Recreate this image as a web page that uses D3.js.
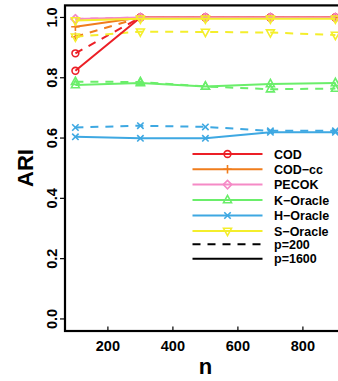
<!DOCTYPE html>
<html><head><meta charset="utf-8">
<script src="https://cdn.jsdelivr.net/npm/d3@7"></script>
<style>html,body{margin:0;padding:0;background:#fff;}svg{display:block;}</style>
</head><body>
<script>
// ---- data ----
const nValues = [100, 300, 500, 700, 900];
const methods = ["COD", "COD\u2212cc", "PECOK", "K\u2212Oracle", "H\u2212Oracle", "S\u2212Oracle"];
const methodColors = ["#ec1f26", "#f07d1c", "#f58ac6", "#6aee6a", "#3ea8e2", "#f4ee2c"];
const methodShapes = ["circle", "plus", "diamond", "triUp", "cross", "triDown"];
const pLabels = ["p=200", "p=1600"];
// ARI values, p = 200 (dashed)
const cod200    = [0.881, 1.000, 1.000, 1.000, 1.000];
const codcc200  = [0.936, 1.000, 1.000, 1.000, 1.000];
const pecok200  = [0.995, 1.000, 1.000, 1.000, 1.000];
const kor200    = [0.787, 0.786, 0.771, 0.762, 0.764];
const hor200    = [0.635, 0.641, 0.637, 0.624, 0.624];
const sor200    = [0.936, 0.953, 0.952, 0.950, 0.942];
// ARI values, p = 1600 (solid)
const cod1600   = [0.823, 1.000, 1.000, 1.000, 1.000];
const codcc1600 = [0.969, 1.000, 1.000, 1.000, 1.000];
const pecok1600 = [0.995, 1.000, 1.000, 1.000, 1.000];
const kor1600   = [0.776, 0.783, 0.771, 0.779, 0.783];
const hor1600   = [0.604, 0.599, 0.599, 0.619, 0.619];
const sor1600   = [0.990, 0.996, 0.996, 0.996, 0.996];
const xTicks = [200, 400, 600, 800];
const yTicks = [0.0, 0.2, 0.4, 0.6, 0.8, 1.0];

const series200 = [cod200, codcc200, pecok200, kor200, hor200, sor200];
const series1600 = [cod1600, codcc1600, pecok1600, kor1600, hor1600, sor1600];

// ---- layout ----
const W = 338, H = 381;
const svg = d3.select("body").append("svg").attr("width", W).attr("height", H)
  .style("font-family", "'Liberation Sans', Arial, Helvetica, sans-serif")
  .style("font-weight", "bold");

const x = d3.scaleLinear().domain([68, 932]).range([65, 345.8]);
const y = d3.scaleLinear().domain([-0.04, 1.04]).range([331, 5.4]);

// box
svg.append("rect").attr("x", x(68)).attr("y", y(1.04))
  .attr("width", x(932) - x(68)).attr("height", y(-0.04) - y(1.04))
  .attr("fill", "none").attr("stroke", "#000").attr("stroke-width", 2.2);

// y axis ticks + labels
yTicks.forEach(v => {
  svg.append("line").attr("x1", 65).attr("x2", 60).attr("y1", y(v)).attr("y2", y(v))
    .attr("stroke", "#000").attr("stroke-width", 1.2);
  svg.append("text").attr("transform", `translate(57,${y(v)}) rotate(-90)`)
    .attr("text-anchor", "middle").attr("font-size", 14.5).text(d3.format(".1f")(v));
});
// x axis ticks + labels
xTicks.forEach(v => {
  svg.append("line").attr("x1", x(v)).attr("x2", x(v)).attr("y1", 331).attr("y2", 326.5)
    .attr("stroke", "#000").attr("stroke-width", 1.2);
  svg.append("text").attr("x", x(v)).attr("y", 350.5)
    .attr("text-anchor", "middle").attr("font-size", 14.5).text(v);
});
// axis titles
svg.append("text").attr("x", 205.4).attr("y", 374).attr("text-anchor", "middle")
  .attr("font-size", 22).text("n");
svg.append("text").attr("transform", "translate(33,168) rotate(-90)")
  .attr("text-anchor", "middle").attr("font-size", 22).text("ARI");

// markers
function marker(g, shape, cx, cy, color) {
  const s = 4.2;
  const st = {fill: "none", stroke: color, "stroke-width": 1.6};
  let el;
  if (shape === "circle") el = g.append("circle").attr("cx", cx).attr("cy", cy).attr("r", 3.4);
  else if (shape === "plus") el = g.append("path").attr("d", `M${cx - s},${cy}H${cx + s}M${cx},${cy - s}V${cy + s}`);
  else if (shape === "diamond") el = g.append("path").attr("d", `M${cx},${cy - s}L${cx + s},${cy}L${cx},${cy + s}L${cx - s},${cy}Z`);
  else if (shape === "triUp") el = g.append("path").attr("d", `M${cx},${cy - 4.6}L${cx + 4},${cy + 2.7}L${cx - 4},${cy + 2.7}Z`);
  else if (shape === "cross") el = g.append("path").attr("d", `M${cx - 3.2},${cy - 3.2}L${cx + 3.2},${cy + 3.2}M${cx - 3.2},${cy + 3.2}L${cx + 3.2},${cy - 3.2}`);
  else if (shape === "triDown") el = g.append("path").attr("d", `M${cx},${cy + 4.6}L${cx + 4},${cy - 2.7}L${cx - 4},${cy - 2.7}Z`);
  Object.entries(st).forEach(([k, v]) => el.attr(k, v));
}

const line = d3.line().x((d, i) => x(nValues[i])).y(d => y(d));
const plot = svg.append("g");

function drawSeries(vals, mi, dashed) {
  plot.append("path").datum(vals).attr("d", line).attr("fill", "none")
    .attr("stroke", methodColors[mi]).attr("stroke-width", 2)
    .attr("stroke-dasharray", dashed ? "8,7" : null);
  vals.forEach((v, i) => marker(plot, methodShapes[mi], x(nValues[i]), y(v), methodColors[mi]));
}
series200.forEach((s, i) => drawSeries(s, i, true));
series1600.forEach((s, i) => drawSeries(s, i, false));

// legend
const leg = svg.append("g");
const rowY = [154, 169.3, 184.6, 200, 215.5, 231, 244.3, 258.8];
methods.forEach((m, i) => {
  leg.append("line").attr("x1", 192.5).attr("x2", 262.5).attr("y1", rowY[i]).attr("y2", rowY[i])
    .attr("stroke", methodColors[i]).attr("stroke-width", 2);
  marker(leg, methodShapes[i], 227.5, rowY[i], methodColors[i]);
  leg.append("text").attr("x", 274).attr("y", rowY[i] + 4.5).attr("font-size", 12.5).text(m);
});
pLabels.forEach((p, j) => {
  const yy = rowY[6 + j];
  leg.append("line").attr("x1", 192.5).attr("x2", 262.5).attr("y1", yy).attr("y2", yy)
    .attr("stroke", "#000").attr("stroke-width", 2).attr("stroke-dasharray", j === 0 ? "8,7" : null);
  leg.append("text").attr("x", 274).attr("y", yy + 4.5).attr("font-size", 12.5).text(p);
});
</script>
</body></html>
